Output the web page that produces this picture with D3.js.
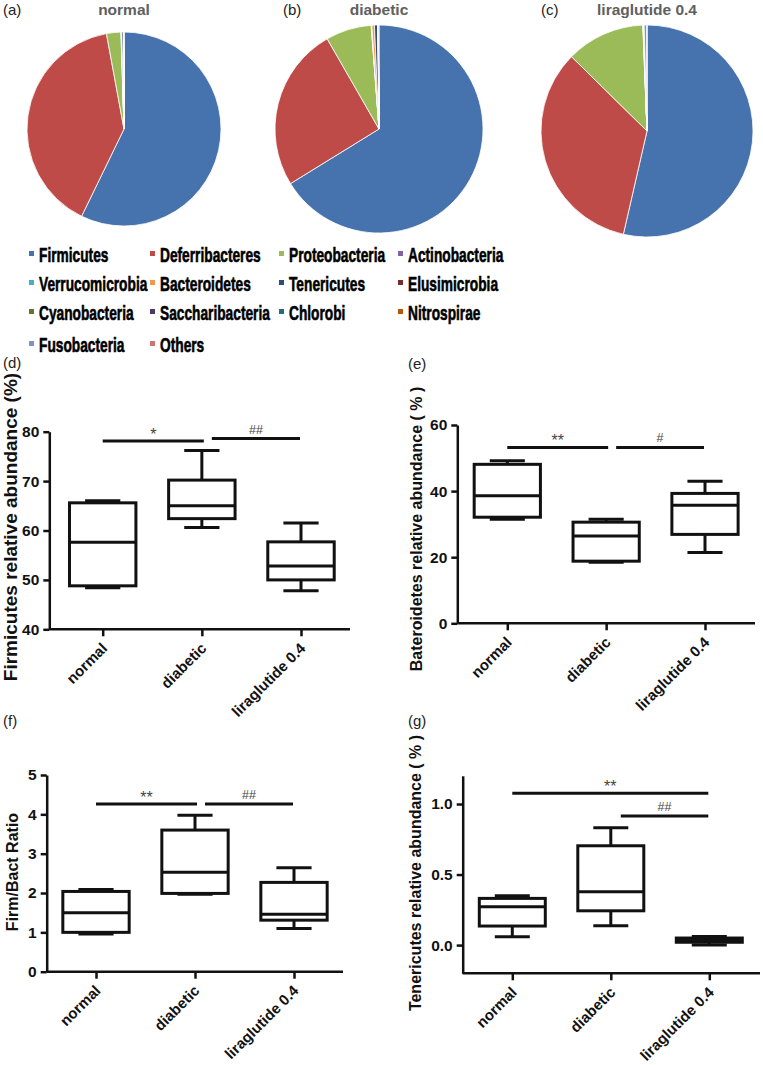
<!DOCTYPE html>
<html>
<head>
<meta charset="utf-8">
<script src="https://cdn.jsdelivr.net/npm/d3@7"></script>
<style>
  body { margin: 0; background: #fff; }
  svg { display: block; font-family: "Liberation Sans", Arial, sans-serif; }
</style>
</head>
<body>
<svg id="svg" width="763" height="1065"></svg>
<script>
// ---- data ----
const groups = ['normal', 'diabetic', 'liraglutide 0.4']
const phyla = ['Firmicutes', 'Deferribacteres', 'Proteobacteria', 'Actinobacteria',
  'Verrucomicrobia', 'Bacteroidetes', 'Tenericutes', 'Elusimicrobia',
  'Cyanobacteria', 'Saccharibacteria', 'Chlorobi', 'Nitrospirae',
  'Fusobacteria', 'Others']

// relative abundance (%) per phylum, same order as phyla
const normalShare   = [57.2, 39.9, 2.4, 0.05, 0.05, 0.05, 0.25, 0.02, 0.01, 0.01, 0, 0, 0.01, 0.05]
const diabeticShare = [66.2, 25.5, 7.1, 0.05, 0.05, 0.4, 0.5, 0.05, 0.02, 0.02, 0, 0, 0.01, 0.1]
const liraShare     = [53.6, 33.8, 12.0, 0.05, 0.02, 0.05, 0.05, 0.01, 0.01, 0.01, 0, 0, 0.4, 0.03]

// box stats per group: [min, q1, median, q3, max]
const firmicutesBox = [[48.4, 48.8, 57.6, 65.6, 66.0], [60.6, 62.4, 65.0, 70.2, 76.2], [47.8, 50.0, 52.8, 57.7, 61.5]]
const bacteroidetesBox = [[31.5, 32.1, 38.6, 48.1, 49.2], [18.5, 18.8, 26.4, 30.6, 31.5], [21.4, 26.9, 35.7, 39.3, 43.0]]
const ratioBox = [[0.96, 1.0, 1.5, 2.04, 2.09], [1.97, 1.99, 2.53, 3.6, 3.98], [1.10, 1.31, 1.46, 2.27, 2.64]]
const tenericutesBox = [[0.059, 0.135, 0.272, 0.331, 0.35], [0.137, 0.243, 0.378, 0.704, 0.832], [0.0, 0.02, 0.035, 0.05, 0.06]]

const firmicutesTicks = [40, 50, 60, 70, 80]
const bacteroidetesTicks = [0, 20, 40, 60]
const ratioTicks = [0, 1, 2, 3, 4, 5]
const tenericutesTicks = [0, 0.5, 1.0]

// significance bars: groups compared, height in data units, label
const firmicutesSig = [{ a: 0, b: 1, v: 78.1, label: '*' }, { a: 1, b: 2, v: 78.6, label: '##' }]
const bacteroidetesSig = [{ a: 0, b: 1, v: 53.2, label: '**' }, { a: 1, b: 2, v: 53.2, label: '#' }]
const ratioSig = [{ a: 0, b: 1, v: 4.26, label: '**' }, { a: 1, b: 2, v: 4.26, label: '##' }]
const tenericutesSig = [{ a: 0, b: 2, v: 1.076, label: '**' }, { a: 1, b: 2, v: 0.915, label: '##' }]

const phylumColors = ['#4673ae', '#be4b48', '#9bbb59', '#8064a2', '#4bacc6', '#f79646',
  '#2c4d75', '#772c2a', '#5f7530', '#4d3b62', '#276a7c', '#b65708', '#7f94bd', '#cd7371']

const svg = d3.select('#svg')

// ---- pies ----
const pieLayout = [
  { tag: '(a)', tagX: 3, cx: 124, cy: 129, r: 97, share: normalShare },
  { tag: '(b)', tagX: 283, cx: 379, cy: 129, r: 104, share: diabeticShare },
  { tag: '(c)', tagX: 541, cx: 647, cy: 131, r: 106, share: liraShare }
]
const pie = d3.pie().sort(null).value(d => d)

pieLayout.forEach((p, i) => {
  svg.append('text').text(p.tag)
    .attr('x', p.tagX).attr('y', 15)
    .attr('font-size', 15).attr('fill', '#222')

  svg.append('text').text(groups[i])
    .attr('x', p.cx).attr('y', 15)
    .attr('text-anchor', 'middle')
    .attr('font-size', 15.5).attr('font-weight', 'bold').attr('fill', '#606060')

  const arc = d3.arc().innerRadius(0).outerRadius(p.r)
  svg.append('g')
    .attr('transform', `translate(${p.cx},${p.cy})`)
    .selectAll('path')
    .data(pie(p.share))
    .enter()
    .append('path')
    .attr('d', arc)
    .attr('fill', (d, j) => phylumColors[j])
    .attr('stroke', '#fff')
    .attr('stroke-width', 0.8)
})

// ---- legend ----
const legendCols = [39, 160, 289, 408]
const legendRows = [262, 291, 320, 352]
const legend = svg.append('g')
phyla.forEach((name, i) => {
  const lx = legendCols[i % 4]
  const ly = legendRows[Math.floor(i / 4)]
  legend.append('rect')
    .attr('x', lx - 10).attr('y', ly - 11)
    .attr('width', 5).attr('height', 5)
    .attr('fill', phylumColors[i])
  legend.append('text').text(name)
    .attr('transform', `translate(${lx},${ly}) scale(0.67,1)`)
    .attr('font-size', 20.5).attr('font-weight', 'bold').attr('fill', '#000')
    .attr('stroke', '#000').attr('stroke-width', 0.6)
})

// ---- box plots ----
const panels = [
  { tag: '(d)', tagX: 3, tagY: 368, x0: 49.3, x1: 350, top: 431.7, bottom: 629.3, points: [102.7, 301],
    domain: [40, 80], ticks: firmicutesTicks, fmt: d3.format('d'), stats: firmicutesBox, sig: firmicutesSig,
    title: 'Firmicutes relative abundance (%)', titleX: 17, titleY: 527, titleSize: 19 },
  { tag: '(e)', tagX: 408, tagY: 369, x0: 457.3, x1: 755, top: 425, bottom: 623.3, points: [507.3, 705],
    domain: [0, 60], ticks: bacteroidetesTicks, fmt: d3.format('d'), stats: bacteroidetesBox, sig: bacteroidetesSig,
    title: 'Bateroidetes relative abundance ( % )', titleX: 422, titleY: 529, titleSize: 16 },
  { tag: '(f)', tagX: 3, tagY: 726, x0: 46.7, x1: 343, top: 775, bottom: 971.7, points: [96, 294],
    domain: [0, 5], ticks: ratioTicks, fmt: d3.format('d'), stats: ratioBox, sig: ratioSig,
    title: 'Firm/Bact Ratio', titleX: 18, titleY: 872, titleSize: 16 },
  { tag: '(g)', tagX: 408, tagY: 726, x0: 462.7, x1: 760, top: 775.8, bottom: 973.3, points: [512.3, 709.3],
    domain: [-0.2, 1.2], ticks: tenericutesTicks, fmt: d3.format('.1f'), stats: tenericutesBox, sig: tenericutesSig,
    title: 'Tenericutes relative abundance ( % )', titleX: 421, titleY: 873, titleSize: 16 }
]

panels.forEach(p => {
  const x = d3.scalePoint().domain(groups).range(p.points)
  const y = d3.scaleLinear().domain(p.domain).range([p.bottom, p.top])
  const g = svg.append('g')

  g.append('text').text(p.tag)
    .attr('x', p.tagX).attr('y', p.tagY)
    .attr('font-size', 15).attr('fill', '#222')

  g.append('text').text(p.title)
    .attr('transform', `translate(${p.titleX},${p.titleY}) rotate(-90)`)
    .attr('text-anchor', 'middle')
    .attr('font-size', p.titleSize).attr('font-weight', 'bold').attr('fill', '#111')

  const leftAxis = d3.axisLeft(y)
    .tickValues(p.ticks).tickFormat(p.fmt)
    .tickSize(6).tickSizeOuter(0).tickPadding(4)
  const yAxisG = g.append('g')
    .attr('transform', `translate(${p.x0},0)`)
    .call(leftAxis)

  const bottomAxis = d3.axisBottom(x).tickSize(7).tickSizeOuter(0)
  const xAxisG = g.append('g')
    .attr('transform', `translate(0,${p.bottom})`)
    .call(bottomAxis)
  xAxisG.select('.domain').remove()
  xAxisG.append('line')
    .attr('x1', p.x0).attr('x2', p.x1)
    .attr('stroke', '#111').attr('stroke-width', 2.5)

  ;[yAxisG, xAxisG].forEach(a => {
    a.selectAll('path, line').attr('stroke', '#111').attr('stroke-width', 2.5)
    a.selectAll('text')
      .attr('font-family', '"Liberation Sans", Arial, sans-serif')
      .attr('font-size', 15.5).attr('font-weight', 'bold').attr('fill', '#111')
  })

  xAxisG.selectAll('.tick text')
    .attr('y', 0).attr('dy', 0)
    .attr('font-size', 15)
    .attr('transform', 'translate(5,20) rotate(-45)')
    .style('text-anchor', 'end')

  const boxW = x.step() * 0.67
  const capW = boxW * 0.53
  const boxes = g.selectAll('.box')
    .data(p.stats)
    .enter()
    .append('g')
    .attr('class', 'box')
    .attr('transform', (d, i) => `translate(${x(groups[i])},0)`)
    .attr('stroke', '#111').attr('stroke-width', 3).attr('fill', 'none')

  boxes.append('line')
    .attr('y1', d => y(d[4])).attr('y2', d => y(d[3]))
  boxes.append('line')
    .attr('y1', d => y(d[1])).attr('y2', d => y(d[0]))
  boxes.append('line')
    .attr('x1', -capW / 2).attr('x2', capW / 2)
    .attr('y1', d => y(d[4])).attr('y2', d => y(d[4]))
  boxes.append('line')
    .attr('x1', -capW / 2).attr('x2', capW / 2)
    .attr('y1', d => y(d[0])).attr('y2', d => y(d[0]))
  boxes.append('rect')
    .attr('x', -boxW / 2).attr('width', boxW)
    .attr('y', d => y(d[3])).attr('height', d => y(d[1]) - y(d[3]))
  boxes.append('line')
    .attr('x1', -boxW / 2).attr('x2', boxW / 2)
    .attr('y1', d => y(d[2])).attr('y2', d => y(d[2]))

  // significance bars
  p.sig.forEach((s, k) => {
    const xa = x(groups[s.a]) + (k === 0 ? 0 : 10)
    const xb = x(groups[s.b]) + (k === 0 && s.b !== 2 ? 2 : -1)
    g.append('line')
      .attr('x1', xa).attr('x2', xb)
      .attr('y1', y(s.v)).attr('y2', y(s.v))
      .attr('stroke', '#111').attr('stroke-width', 3)
    const isStar = s.label.startsWith('*')
    g.append('text').text(s.label)
      .attr('x', (xa + xb) / 2)
      .attr('y', y(s.v) - (isStar ? 1.5 : 5))
      .attr('text-anchor', 'middle')
      .attr('font-size', isStar ? 16 : 12.5)
      .attr('fill', '#444')
  })
})
</script>
</body>
</html>
